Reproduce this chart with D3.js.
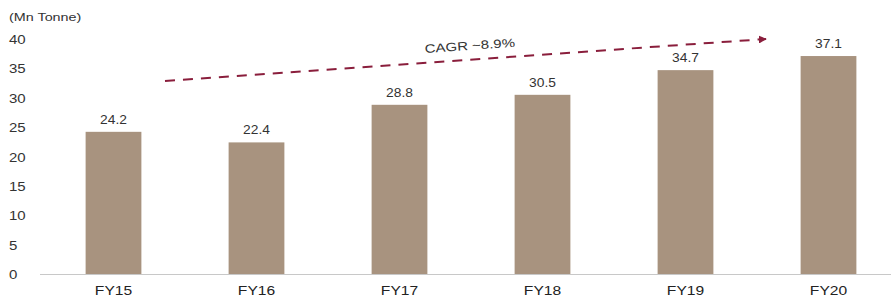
<!DOCTYPE html>
<html>
<head>
<meta charset="utf-8">
<script src="https://cdn.jsdelivr.net/npm/d3@7"></script>
<style>
  body { margin: 0; background: #fff; }
  svg text { font-family: "Liberation Sans", Arial, sans-serif; }
</style>
</head>
<body>
<div id="chart"></div>
<script>
var years = ['FY15', 'FY16', 'FY17', 'FY18', 'FY19', 'FY20'];
var volumes = [24.2, 22.4, 28.8, 30.5, 34.7, 37.1];
var y_ticks = [0, 5, 10, 15, 20, 25, 30, 35, 40];
var unit_label = '(Mn Tonne)';
var cagr_label = 'CAGR ~8.9%';

var width = 891, height = 297;
var bar_color = '#a8937f';
var stretch = 1.25; // text in the picture is a bit wide

var svg = d3.select('#chart').append('svg')
    .attr('width', width)
    .attr('height', height);

var x = d3.scaleBand()
    .domain(years)
    .range([42, 900])
    .paddingInner(0.61)
    .paddingOuter(0.305);

var y = d3.scaleLinear()
    .domain([0, 40])
    .range([274, 39]);

// y tick labels, no axis line
svg.append('g')
    .selectAll('text')
    .data(y_ticks)
    .enter()
    .append('text')
    .attr('transform', d => `translate(9,${y(d) + 5}) scale(${stretch},1)`)
    .attr('font-size', 12)
    .attr('fill', '#333')
    .text(d => d);

svg.append('text')
    .attr('transform', `translate(9,21) scale(${stretch},1)`)
    .attr('font-size', 11.5)
    .attr('fill', '#333')
    .text(unit_label);

svg.selectAll('.bar')
    .data(volumes)
    .enter()
    .append('rect')
    .attr('class', 'bar')
    .attr('x', (d, i) => x(years[i]))
    .attr('y', d => y(d))
    .attr('width', x.bandwidth())
    .attr('height', d => y(0) - y(d))
    .attr('fill', bar_color);

svg.selectAll('.val')
    .data(volumes)
    .enter()
    .append('text')
    .attr('class', 'val')
    .attr('transform', (d, i) => `translate(${x(years[i]) + x.bandwidth() / 2},${y(d) - 8}) scale(${stretch - 0.1},1)`)
    .attr('text-anchor', 'middle')
    .attr('font-size', 12)
    .attr('fill', '#333')
    .text(d => d.toFixed(1));

// baseline
svg.append('line')
    .attr('x1', 40)
    .attr('x2', width)
    .attr('y1', y(0) + 0.5)
    .attr('y2', y(0) + 0.5)
    .attr('stroke', '#c8c8c8')
    .attr('stroke-width', 1);

var xAxis = svg.append('g')
    .attr('transform', `translate(0,${y(0)})`)
    .call(d3.axisBottom(x).tickSize(0).tickPadding(12));
xAxis.select('.domain').remove();
xAxis.selectAll('text')
    .attr('font-size', 12.5)
    .attr('fill', '#222')
    .attr('transform', `scale(${stretch},1)`)
    .style('font-family', '"Liberation Sans", Arial, sans-serif');

// CAGR arrow
var arrow_color = '#8a1e3c';
svg.append('defs').append('marker')
    .attr('id', 'head')
    .attr('viewBox', '0 0 10 10')
    .attr('refX', 9)
    .attr('refY', 5)
    .attr('markerWidth', 4)
    .attr('markerHeight', 4)
    .attr('orient', 'auto')
    .append('path')
    .attr('d', 'M0,0L10,5L0,10z')
    .attr('fill', arrow_color);

var ax1 = 165, ay1 = 81, ax2 = 766, ay2 = 39;
svg.append('line')
    .attr('x1', ax1)
    .attr('y1', ay1)
    .attr('x2', ax2)
    .attr('y2', ay2)
    .attr('stroke', arrow_color)
    .attr('stroke-width', 2)
    .attr('stroke-dasharray', '10,8')
    .attr('marker-end', 'url(#head)');

var angle = Math.atan2(ay2 - ay1, ax2 - ax1) * 180 / Math.PI;
svg.append('text')
    .attr('transform', `translate(425,53) rotate(${angle}) scale(${stretch},1)`)
    .attr('font-size', 12)
    .attr('fill', '#333')
    .text(cagr_label);
</script>
</body>
</html>
